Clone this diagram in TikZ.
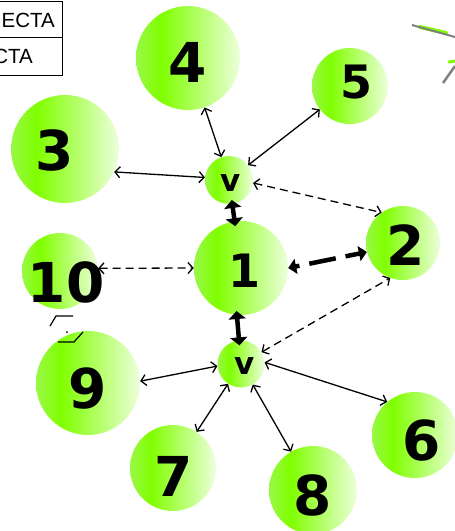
\documentclass[tikz,border=0pt]{standalone}
\usepackage{fontspec}
\setmainfont{Liberation Sans}
\newfontfamily\numfont{DejaVu Sans}
\usetikzlibrary{arrows.meta}
\definecolor{limeg}{rgb}{0.5,1,0}
\pgfdeclarehorizontalshading{ballshade}{100bp}{rgb(0bp)=(0.6,0.97,0.28); rgb(25bp)=(0.6,0.97,0.28); rgb(37bp)=(0.5,1,0); rgb(75bp)=(0.93,1,0.86); rgb(100bp)=(0.93,1,0.86)}
\begin{document}
\begin{tikzpicture}[x=1pt,y=-1pt,
  ball/.style={circle, inner sep=0pt, minimum size=#1, shading=ballshade},
  num/.style={inner sep=0pt, font=\numfont\bfseries\fontsize{55}{55}\selectfont},
  smallnum/.style={inner sep=0pt, font=\numfont\bfseries\fontsize{46}{46}\selectfont},
  vee/.style={inner sep=0pt, font=\numfont\bfseries\fontsize{31}{31}\selectfont},
  cell/.style={inner sep=0pt, anchor=base east, font=\fontsize{20.5}{20.5}\selectfont},
  thinarr/.style={line width=1.3pt, <->, >={Straight Barb[length=5pt,width=11pt]}},
  dsh/.style={dash pattern=on 8pt off 5pt},
  bigarr/.style={line width=4.5pt, <->, >={Triangle[length=8pt,width=17pt]}, shorten <=-4pt, shorten >=-5pt},
  bigdash/.style={line width=4.5pt, <->, >={Triangle[length=8pt,width=15pt]}, dash pattern=on 4pt off 10pt on 27pt off 10pt on 40pt off 0pt}
]
\useasboundingbox (0,0) rectangle (455,531);
\clip (0,0) rectangle (455,531);
% table fragment
\draw[line width=1pt] (0,1.5) -- (62,1.5) -- (62,75) -- (0,75);
\draw[line width=1pt] (0,37) -- (62,37);
\node[cell] (c1) at (55,27) {ECTA};
\node[cell] (c2) at (33,63) {CTA};
% top-right fragments
\draw[line width=4pt, limeg, line cap=round] (420,27) -- (446,33);
\draw[line width=2pt, gray] (412,25) -- (455,37);
\draw[line width=3pt, limeg, line cap=round] (449,62) -- (455,61);
\draw[line width=2.5pt, gray] (443,83) -- (455,66);
% circles
\node[ball=94pt]  (n1)  at (241,268) {};
\node[ball=48pt]  (v1)  at (229,180) {};
\node[ball=47pt]  (v2)  at (241,364) {};
\node[ball=74pt]  (n2)  at (403,243) {};
\node[ball=108pt] (n3)  at (65,149) {};
\node[ball=104pt] (n4)  at (188,58) {};
\node[ball=76pt]  (n5)  at (350,86) {};
\node[ball=76pt]  (n10) at (60,271) {};
\node[ball=104pt] (n9)  at (88,383) {};
\node[ball=86pt]  (n7)  at (173,468) {};
\node[ball=88pt]  (n8)  at (313,490) {};
\node[ball=86pt]  (n6)  at (415,435) {};
% labels
\node[smallnum] (t1) at (245,271) {1};
\node[num] (t2) at (406,245) {2};
\node[num] (t3) at (55,150) {3};
\node[num] (t4) at (188,62) {4};
\node[smallnum] (t5) at (357,82) {5};
\node[num] (t10) at (66,282) {10};
\node[num] (t9) at (88,388) {9};
\node[num] (t7) at (174,476) {7};
\node[num] (t8) at (313,495) {8};
\node[num] (t6) at (422,440) {6};
\node[vee] (tv1) at (231,183) {v};
\node[vee] (tv2) at (245,366) {v};
% connectors
\draw[thinarr] (v1) -- (n4);
\draw[thinarr] (v1) -- (n5);
\draw[thinarr] (v1.174) -- (n3.-25);
\draw[thinarr,dsh] (v1.-7) -- (n2.125);
\draw[bigarr] (v1) -- (n1);
\draw[bigdash] (n1.0) -- (n2.194);
\draw[thinarr,dsh] (n10.4) -- (n1.180);
\draw[bigarr] (n1.265) -- (v2);
\draw[thinarr,dsh] (v2.30) -- (n2.250);
\draw[thinarr] (v2.185) -- (n9.2);
\draw[thinarr] (v2) -- (n7);
\draw[thinarr] (v2) -- (n8);
\draw[thinarr] (v2.4) -- (n6.130);
% small loop fragment between 10 and 9
\coordinate (m1) at (50,326);
\coordinate (m2) at (56,316);
\coordinate (m3) at (73,316);
\coordinate (m4) at (58,342);
\coordinate (m5) at (74,342);
\coordinate (m6) at (83,332);
\draw[line width=1.2pt] (m1) -- (m2) -- (m3);
\draw[line width=1.2pt] (m4) -- (m5) -- (m6);
\fill (67,332) circle (1pt);
\end{tikzpicture}
\end{document}
